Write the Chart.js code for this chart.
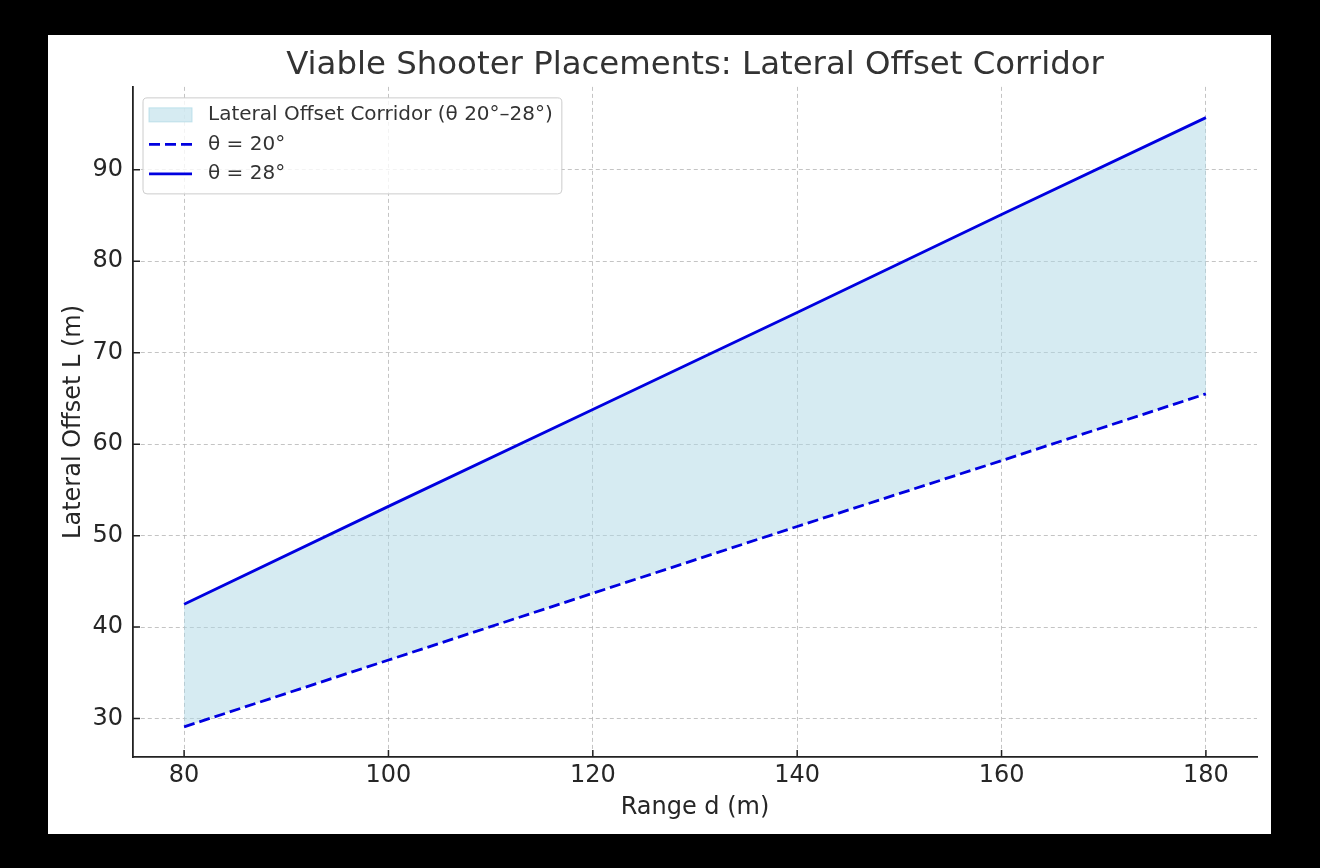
<!DOCTYPE html>
<html lang="en">
<head>
<meta charset="UTF-8">
<title>Viable Shooter Placements</title>
<script src="https://cdn.jsdelivr.net/npm/chart.js"></script>
<style>
    html, body {
        margin: 0;
        padding: 0;
        background: #000;
        width: 1320px;
        height: 868px;
        overflow: hidden;
    }
    .panel {
        position: absolute;
        left: 48px;
        top: 35px;
        width: 1223px;
        height: 799px;
        background: #fff;
    }
</style>
</head>
<body>
<div class="panel">
    <canvas id="corridorChart" width="1223" height="799"></canvas>
</div>

<script>
// values
const rangeD = [80, 100, 120, 140, 160, 180];
const theta20 = [29.1, 36.4, 43.7, 51.0, 58.2, 65.5];
const theta28 = [42.5, 53.2, 63.8, 74.4, 85.1, 95.7];
const xTicks = [80, 100, 120, 140, 160, 180];
const yTicks = [30, 40, 50, 60, 70, 80, 90];
const seriesLabels = ['Lateral Offset Corridor (θ 20°–28°)', 'θ = 20°', 'θ = 28°'];

const toPoints = vals => rangeD.map((d, i) => ({ x: d, y: vals[i] }));

const textColor = '#262626';
const gridColor = 'rgba(176,176,176,0.75)';
const corridorFill = 'rgba(173,216,230,0.5)';

Chart.defaults.font.family = '"DejaVu Sans", sans-serif';
Chart.defaults.color = textColor;

// matplotlib style inward tick marks
const innerTicks = {
    id: 'innerTicks',
    afterDatasetsDraw(chart) {
        const { ctx, chartArea, scales } = chart;
        ctx.save();
        ctx.strokeStyle = '#222';
        ctx.lineWidth = 1.5;
        ctx.beginPath();
        xTicks.forEach(v => {
            const px = scales.x.getPixelForValue(v);
            ctx.moveTo(px, chartArea.bottom);
            ctx.lineTo(px, chartArea.bottom - 7);
        });
        yTicks.forEach(v => {
            const py = scales.y.getPixelForValue(v);
            ctx.moveTo(chartArea.left, py);
            ctx.lineTo(chartArea.left + 7, py);
        });
        ctx.stroke();
        ctx.restore();
    }
};

// legend drawn inside the plot, upper left
const innerLegend = {
    id: 'innerLegend',
    afterDraw(chart) {
        const { ctx, chartArea } = chart;
        const ds = chart.data.datasets;
        ctx.save();
        ctx.font = '20px "DejaVu Sans"';
        const textW = Math.max(...ds.map(d => ctx.measureText(d.label).width));
        const bx = chartArea.left + 10;
        const by = chartArea.top + 11;
        const bw = 65 + textW + 9;
        const bh = 96;

        ctx.beginPath();
        ctx.roundRect(bx, by, bw, bh, 4);
        ctx.fillStyle = 'rgba(255,255,255,0.8)';
        ctx.fill();
        ctx.strokeStyle = '#cccccc';
        ctx.lineWidth = 1;
        ctx.stroke();

        ds.forEach((d, i) => {
            const cy = by + 17 + i * 29.5;
            if (i === 0) {
                ctx.fillStyle = d.backgroundColor;
                ctx.fillRect(bx + 6, cy - 7, 43, 14);
                ctx.strokeStyle = 'rgba(173,216,230,0.7)';
                ctx.lineWidth = 1;
                ctx.strokeRect(bx + 6, cy - 7, 43, 14);
            } else {
                ctx.strokeStyle = d.borderColor;
                ctx.lineWidth = d.borderWidth;
                ctx.setLineDash(d.borderDash || []);
                ctx.beginPath();
                ctx.moveTo(bx + 6, cy);
                ctx.lineTo(bx + 49, cy);
                ctx.stroke();
                ctx.setLineDash([]);
            }
            ctx.fillStyle = '#333';
            ctx.textBaseline = 'middle';
            ctx.fillText(d.label, bx + 65, cy);
        });
        ctx.restore();
    }
};

const ctx = document.getElementById('corridorChart').getContext('2d');
new Chart(ctx, {
    type: 'line',
    data: {
        datasets: [{
            label: seriesLabels[0],
            data: toPoints(theta28),
            borderWidth: 0,
            pointRadius: 0,
            backgroundColor: corridorFill,
            fill: 1,
            order: 2
        }, {
            label: seriesLabels[1],
            data: toPoints(theta20),
            borderColor: '#0000e0',
            borderWidth: 2.8,
            borderDash: [11, 5],
            pointRadius: 0,
            fill: false,
            order: 1
        }, {
            label: seriesLabels[2],
            data: toPoints(theta28),
            borderColor: '#0000e0',
            borderWidth: 2.8,
            pointRadius: 0,
            fill: false,
            order: 0
        }]
    },
    options: {
        responsive: false,
        animation: false,
        layout: { padding: { left: 0, right: 14, top: 0, bottom: 0 } },
        plugins: {
            legend: { display: false },
            tooltip: { enabled: false },
            title: {
                display: true,
                text: 'Viable Shooter Placements: Lateral Offset Corridor',
                fullSize: false,
                color: '#333',
                font: { size: 32.4, weight: 'normal' },
                padding: { top: 11, bottom: 2 }
            }
        },
        scales: {
            x: {
                type: 'linear',
                min: 75,
                max: 185,
                afterBuildTicks: s => { s.ticks = xTicks.map(v => ({ value: v })); },
                afterFit: s => { s.height = 77; },
                ticks: { font: { size: 24 }, color: textColor, padding: 4 },
                grid: { color: gridColor, lineWidth: 1, drawTicks: false },
                border: { color: '#222', width: 1.8, dash: [4, 3] },
                title: {
                    display: true,
                    text: 'Range d (m)',
                    color: textColor,
                    font: { size: 24 },
                    padding: { top: 4, bottom: 11.5 }
                }
            },
            y: {
                type: 'linear',
                min: 25.8,
                max: 99.06,
                afterBuildTicks: s => { s.ticks = yTicks.map(v => ({ value: v })); },
                afterFit: s => { s.width = 85; },
                ticks: { font: { size: 24 }, color: textColor, padding: 10 },
                grid: { color: gridColor, lineWidth: 1, drawTicks: false },
                border: { color: '#222', width: 1.8, dash: [4, 3] },
                title: {
                    display: true,
                    text: 'Lateral Offset L (m)',
                    color: textColor,
                    font: { size: 24 },
                    padding: { top: 11, bottom: 4 }
                }
            }
        }
    },
    plugins: [innerTicks, innerLegend]
});
</script>
</body>
</html>
